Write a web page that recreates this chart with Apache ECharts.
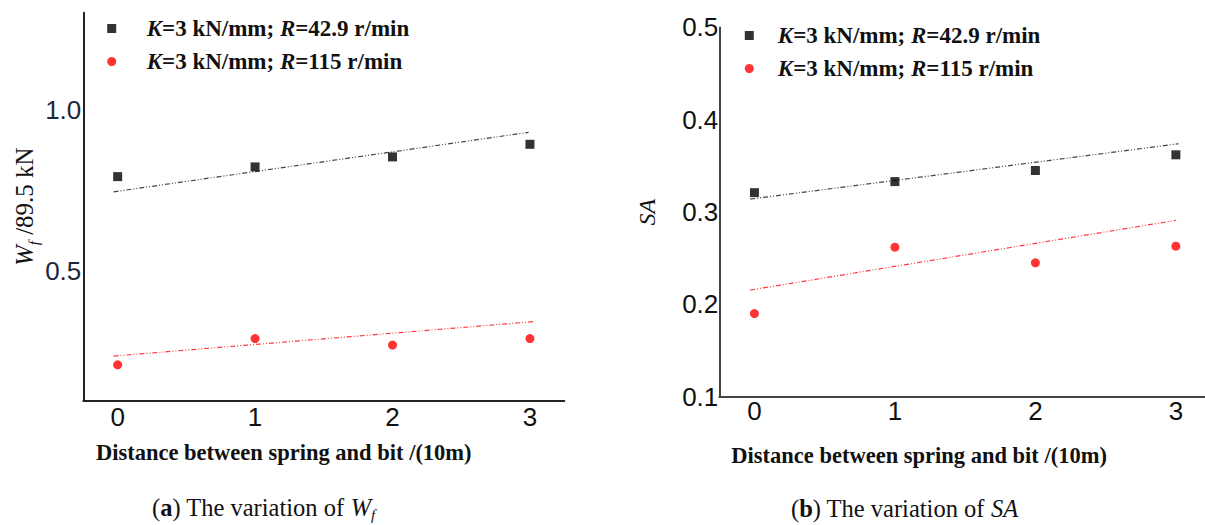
<!DOCTYPE html>
<html>
<head>
<meta charset="utf-8">
<script src="https://cdn.jsdelivr.net/npm/echarts@6/dist/echarts.min.js"></script>
<style>
html,body{margin:0;padding:0;background:#fff;}
#chart{width:1205px;height:525px;}
</style>
</head>
<body>
<div id="chart"></div>
<script>
// ---- data ----
const distance = [0, 1, 2, 3];
const seriesNames = ['K=3 kN/mm; R=42.9 r/min', 'K=3 kN/mm; R=115 r/min'];
const wfSlow = [0.793, 0.823, 0.854, 0.893];
const wfFast = [0.211, 0.292, 0.272, 0.292];
const saSlow = [0.321, 0.333, 0.345, 0.362];
const saFast = [0.190, 0.262, 0.245, 0.263];
// fitted trend lines (end points)
const wfSlowTrend = [[-0.03, 0.746], [2.99, 0.930]];
const wfFastTrend = [[-0.03, 0.238], [3.04, 0.345]];
const saSlowTrend = [[-0.03, 0.314], [3.02, 0.374]];
const saFastTrend = [[-0.03, 0.2155], [3.0, 0.291]];
const wfTickLabels = ['0.5', '1.0'];
const saTickLabels = ['0.1', '0.2', '0.3', '0.4', '0.5'];
const xAxisTitle = 'Distance between spring and bit /(10m)';

// ---- helpers ----
const SERIF = '"Liberation Serif","Times New Roman",serif';
const SANS = '"Liberation Sans",Arial,sans-serif';
const pts = ys => distance.map((x, i) => [x, ys[i]]);
const dashDot = [5, 2, 1, 2, 1, 2];

function xAxisDef(gridIndex, shift, gap, margin) {
  return {
    type: 'value', gridIndex, min: -0.25, max: 3.25, interval: 0.25,
    axisLine: { show: true, onZero: false, lineStyle: { color: gridIndex ? '#444' : '#222', width: 2 } },
    axisTick: { show: false }, splitLine: { show: false },
    axisLabel: {
      margin, fontFamily: SANS, fontSize: 26, color: '#111',
      formatter: v => (Math.abs(v - Math.round(v)) < 1e-6 && distance.includes(Math.round(v))) ? String(Math.round(v)) : ''
    },
    name: xAxisTitle, nameLocation: 'middle', nameGap: gap,
    nameTextStyle: { fontFamily: SERIF, fontWeight: 'bold', fontSize: 22.5, color: '#111', padding: [0, shift, 0, 0] }
  };
}

const legendRich = { i: { fontStyle: 'italic', fontWeight: 'bold', fontFamily: SERIF, fontSize: 23, color: '#111' } };
const legendFmt = n => n.replace('K=', '{i|K}=').replace('R=', '{i|R}=');
function legendDef(left, top, pad) {
  return {
    orient: 'vertical', left, top, padding: 0, itemWidth: 9, itemHeight: 9, itemGap: 10,
    data: [{ name: seriesNames[0], icon: 'rect' }, { name: seriesNames[1], icon: 'circle' }],
    formatter: legendFmt,
    textStyle: { fontFamily: SERIF, fontWeight: 'bold', fontSize: 23, color: '#111', lineHeight: 22,
      padding: [0, 0, 0, pad], rich: legendRich },
    selectedMode: false
  };
}

function scatter(name, data, idx, symbol, color) {
  return { name, type: 'scatter', xAxisIndex: idx, yAxisIndex: idx, data, symbol, symbolSize: 9,
    itemStyle: { color }, z: 3 };
}
function trend(name, data, idx, color) {
  return { name, type: 'line', xAxisIndex: idx, yAxisIndex: idx, data, symbol: 'none',
    lineStyle: { color, width: 1.2, type: dashDot }, silent: true, z: 2 };
}

const option = {
  backgroundColor: '#fff',
  animation: false,
  grid: [
    { left: 83.3, top: 12.7, width: 481, height: 388, containLabel: false, outerBoundsMode: 'none' },
    { left: 719.3, top: 27.4, width: 491.7, height: 369.3, containLabel: false, outerBoundsMode: 'none' }
  ],
  legend: [legendDef(107.2, 17, 25.5), legendDef(744.8, 24, 19)],
  title: [
    { text: '({b|a}) The variation of {i|W}{s|f}', left: 152, top: 492, padding: 0,
      textStyle: { fontFamily: SERIF, fontWeight: 'normal', fontSize: 24.5, color: '#111', lineHeight: 30,
        rich: { b: { fontFamily: SERIF, fontWeight: 'bold', fontSize: 24.5, color: '#111', lineHeight: 30 },
                i: { fontFamily: SERIF, fontStyle: 'italic', fontSize: 24.5, color: '#111', lineHeight: 30 },
                s: { fontFamily: SERIF, fontStyle: 'italic', fontSize: 15, color: '#111', lineHeight: 15, verticalAlign: 'bottom' } } } },
    { text: '({b|b}) The variation of {i|SA}', left: 791, top: 493, padding: 0,
      textStyle: { fontFamily: SERIF, fontWeight: 'normal', fontSize: 24.5, color: '#111', lineHeight: 30,
        rich: { b: { fontFamily: SERIF, fontWeight: 'bold', fontSize: 24.5, color: '#111', lineHeight: 30 },
                i: { fontFamily: SERIF, fontStyle: 'italic', fontSize: 24.5, color: '#111', lineHeight: 30 } } } }
  ],
  xAxis: [xAxisDef(0, 80, 40, 3), xAxisDef(1, 92, 47, 1)],
  yAxis: [
    { type: 'value', gridIndex: 0, min: 0.1, max: 1.3, interval: 0.1,
      axisLine: { show: true, onZero: false, lineStyle: { color: '#222', width: 2 } },
      axisTick: { show: false }, splitLine: { show: false },
      axisLabel: { margin: 2, fontFamily: SANS, fontSize: 26, color: '#1c2838',
        formatter: v => { const s = v.toFixed(1); return wfTickLabels.includes(s) ? s : ''; } },
      name: '{i|W}{s|f} /89.5 kN', nameLocation: 'middle', nameRotate: 90, nameGap: 41,
      nameTextStyle: { fontFamily: SERIF, fontSize: 25, color: '#111', lineHeight: 34,
        rich: { i: { fontFamily: SERIF, fontStyle: 'italic', fontSize: 25, color: '#111', lineHeight: 34 },
                s: { fontFamily: SERIF, fontStyle: 'italic', fontSize: 15, color: '#111', lineHeight: 15, verticalAlign: 'bottom' } } } },
    { type: 'value', gridIndex: 1, min: 0.1, max: 0.5, interval: 0.1,
      axisLine: { show: true, onZero: false, lineStyle: { color: '#444', width: 2 } },
      axisTick: { show: false }, splitLine: { show: false },
      axisLabel: { margin: 1, fontFamily: SANS, fontSize: 26, color: '#111',
        formatter: v => { const s = v.toFixed(1); return saTickLabels.includes(s) ? s : ''; } },
      name: 'SA', nameLocation: 'middle', nameRotate: 90, nameGap: 60,
      nameTextStyle: { fontFamily: SERIF, fontStyle: 'italic', fontSize: 24, color: '#111' } }
  ],
  series: [
    trend('wf trend slow', wfSlowTrend, 0, '#444'),
    trend('wf trend fast', wfFastTrend, 0, '#ff3b3b'),
    scatter(seriesNames[0], pts(wfSlow), 0, 'rect', '#000'),
    scatter(seriesNames[1], pts(wfFast), 0, 'circle', '#ff0000'),
    trend('sa trend slow', saSlowTrend, 1, '#444'),
    trend('sa trend fast', saFastTrend, 1, '#ff3b3b'),
    scatter(seriesNames[0], pts(saSlow), 1, 'rect', '#000'),
    scatter(seriesNames[1], pts(saFast), 1, 'circle', '#ff0000')
  ]
};

const chart = echarts.init(document.getElementById('chart'), null, { renderer: 'svg' });
chart.setOption(option);
</script>
</body>
</html>
